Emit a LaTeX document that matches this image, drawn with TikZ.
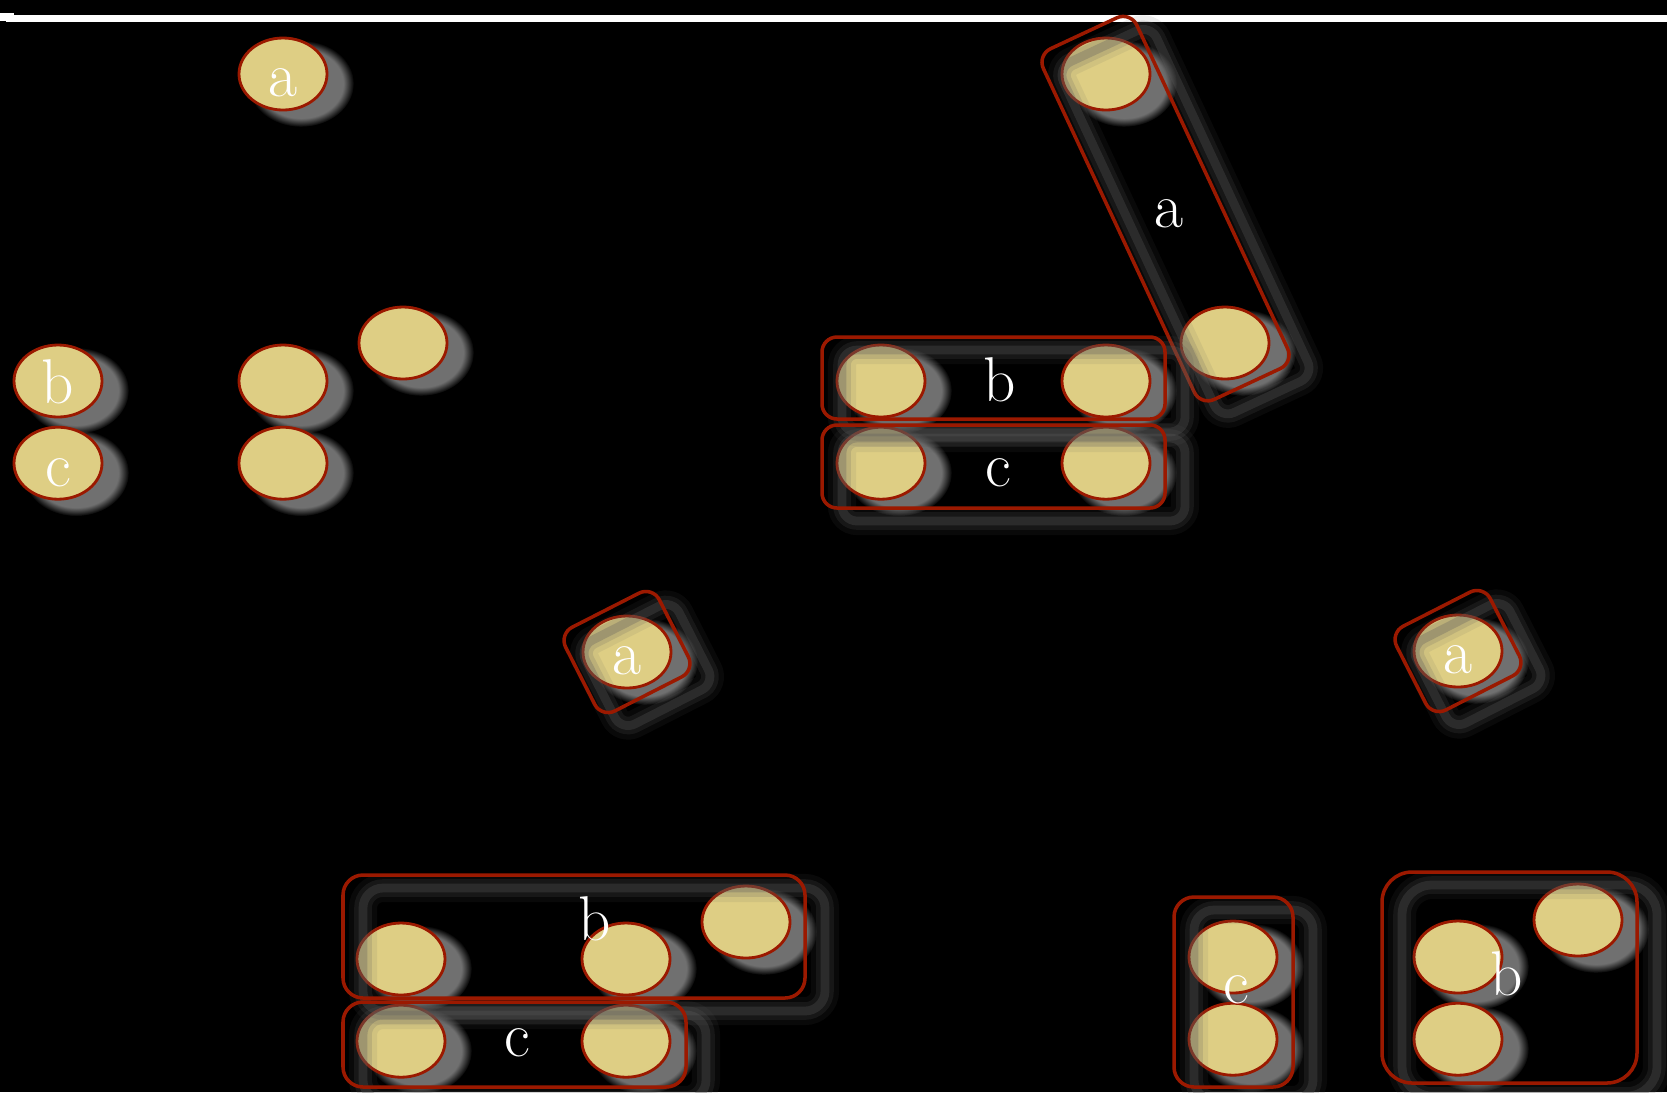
\documentclass[tikz,border=0pt]{standalone}
\usepackage{tikz}
\usetikzlibrary{shapes.geometric, positioning, fit, shadows, fadings}

\definecolor{sand}{RGB}{222,206,132}
\definecolor{rimred}{RGB}{155,25,0}
\definecolor{haze}{RGB}{112,112,112}
\definecolor{smoke}{RGB}{92,92,92}

\begin{document}
\begin{tikzpicture}[
    x=0.1mm, y=-0.1mm,
    elem/.style={ellipse, draw=rimred, line width=0.8pt, fill=sand, minimum width=0.88cm, minimum height=0.72cm, inner sep=0pt, text=white, font=\fontsize{18}{20}\selectfont, text height=13pt, text depth=0pt,
        circular drop shadow={shadow xshift=0.15cm, shadow yshift=-0.08cm, shadow scale=1.2, fill=haze, opacity=1, path fading={circle with fuzzy edge 20 percent}}},
    groupbox/.style={rectangle, draw=rimred, line width=1pt, inner sep=0pt, rounded corners=#1,
        general shadow={draw=smoke, line width=8pt, opacity=0.1, shadow xshift=0.2cm, shadow yshift=-0.13cm},
        general shadow={draw=smoke, line width=5pt, opacity=0.18, shadow xshift=0.2cm, shadow yshift=-0.13cm},
        general shadow={draw=smoke, line width=2.5pt, opacity=0.3, shadow xshift=0.2cm, shadow yshift=-0.13cm}},
    groupbox/.default=0.15cm,
    lbl/.style={text=white, font=\fontsize{18}{20}\selectfont, inner sep=0pt, anchor=base}
]

% Canvas
\fill[black] (0,0) rectangle (1667,1092);
\useasboundingbox (0,0) rectangle (1667,1092);
\fill[white] (6,14.5) rectangle (1667,22);
\fill[white] (0,13.3) rectangle (14,20.5);

% Loose items
\node[elem] (a1) at (283,74) {a};
\node[elem] (b1) at (58,381) {b};
\node[elem, below=0.074cm of b1] (c1) {c};
\node[elem] (b2) at (283,381) {};
\node[elem, below=0.074cm of b2] (c2) {};
\node[elem] (b3) at (403,343) {};

% Items grouped
\node[elem] (ga1) at (1106,74) {};
\node[elem] (ga2) at (1225,343) {};
\node[elem] (gb1) at (881,381) {};
\node[elem] (gb2) at (1106,381) {};
\node[elem, below=0.074cm of gb1] (gc1) {};
\node[elem, below=0.074cm of gb2] (gc2) {};

\node[groupbox, rotate=-65, minimum width=3.87cm, minimum height=1.03cm] (gabox) at (1165.5,208.6) {};
\node[groupbox, fit={(822,337) (1165,419)}] (gbbox) {};
\node[groupbox, fit={(822,425) (1165,508)}] (gcbox) {};
\node[lbl] (galbl) at (1169,227) {a};
\node[lbl] (gblbl) at (1000,401) {b};
\node[lbl] (gclbl) at (998,486) {c};

% Single a
\node[elem] (sa1) at (627,652) {a};
\node[groupbox, rotate=-63, minimum width=0.94cm, minimum height=1.05cm] (sabox1) at (sa1) {};
\node[elem] (sa2) at (1458,651) {a};
\node[groupbox, rotate=-63, minimum width=0.94cm, minimum height=1.05cm] (sabox2) at (sa2) {};

% Bottom left
\node[elem] (lb1) at (401,959) {};
\node[elem] (lb2) at (626,959) {};
\node[elem] (lb3) at (746,922) {};
\node[elem, below=0.074cm of lb1] (lc1) {};
\node[elem, below=0.074cm of lb2] (lc2) {};
\node[groupbox=0.2cm, fit={(343,875) (805,998)}] (lbbox) {};
\node[groupbox=0.2cm, fit={(343,1002) (686,1087)}] (lcbox) {};
\node[lbl] (lblbl) at (595,940) {b};
\node[lbl] (lclbl) at (517,1056) {c};

% Bottom right
\node[elem] (rc1) at (1233,957) {};
\node[elem, below=0.074cm of rc1] (rc2) {};
\node[elem] (rb1) at (1458,957) {};
\node[elem, below=0.074cm of rb1] (rb2) {};
\node[elem] (rb3) at (1578,920) {};
\node[groupbox=0.2cm, fit={(1174,897) (1293,1087)}] (rcbox) {};
\node[groupbox=0.3cm, fit={(1382,872) (1637,1083)}] (rbbox) {};
\node[lbl] (rclbl) at (1236,1003) {c};
\node[lbl] (rblbl) at (1507,995) {b};

\end{tikzpicture}
\end{document}
